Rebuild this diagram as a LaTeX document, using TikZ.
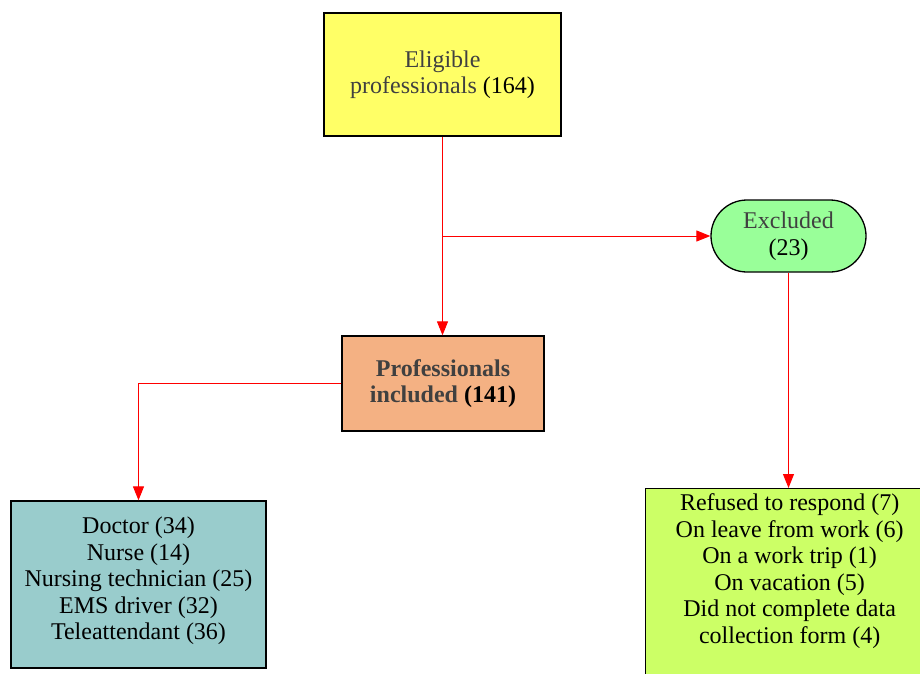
\documentclass[tikz,border=0pt]{standalone}
\usepackage{fontspec}
\setmainfont{Liberation Serif}
\usetikzlibrary{arrows.meta}
\definecolor{cyellow}{RGB}{255,255,102}
\definecolor{cgreen}{RGB}{153,255,153}
\definecolor{corange}{RGB}{244,177,131}
\definecolor{cteal}{RGB}{153,204,204}
\definecolor{clime}{RGB}{204,255,102}
\definecolor{cgraytext}{RGB}{64,64,64}
\begin{document}
\begin{tikzpicture}[x=1pt,y=-1pt,
  box/.style={draw=black,line width=1.3pt,align=center,inner sep=0pt,
    font=\fontsize{24}{26.5}\selectfont,text=black},
  edge/.style={draw=red,line width=1pt,-{Triangle[length=14pt,width=11pt]}}]
\clip (0,0) rectangle (920,673);
\fill[white] (0,0) rectangle (920,673);
\node[box,fill=cyellow,minimum width=237pt,minimum height=123pt] (elig) at (442.5,74.5)
  {\textcolor{cgraytext}{Eligible}\\\textcolor{cgraytext}{professionals} (164)};
\node[box,fill=cgreen,minimum width=155pt,minimum height=72pt,rounded corners=36pt] (excl) at (788.5,236)
  {\textcolor{cgraytext}{Excluded}\\(23)};
\node[box,fill=corange,minimum width=202pt,minimum height=95pt,font=\fontsize{24}{26.5}\selectfont\bfseries] (incl) at (443,383.5)
  {\textcolor{cgraytext}{Professionals}\\\textcolor{cgraytext}{included} (141)};
\node[box,fill=cteal,minimum width=255pt,minimum height=167pt] (prof) at (138.5,584.5)
  {Doctor (34)\\Nurse (14)\\Nursing technician (25)\\EMS driver (32)\\Teleattendant (36)\\[-22pt]\strut};
\node[box,fill=clime,minimum width=288pt,minimum height=210pt,anchor=north west] (reas) at (645,488)
  {Refused to respond (7)\\On leave from work (6)\\On a work trip (1)\\On vacation (5)\\Did not complete data\\collection form (4)\\[16pt]\strut};
\coordinate (branch) at (elig.south |- excl.west);
\draw[edge] (elig.south) -- (elig.south |- incl.north);
\draw[edge] (branch) -- (excl.west);
\draw[edge] (incl.west) -| (prof.north);
\draw[edge] (excl.south) -- (excl.south |- reas.north);
\end{tikzpicture}
\end{document}
